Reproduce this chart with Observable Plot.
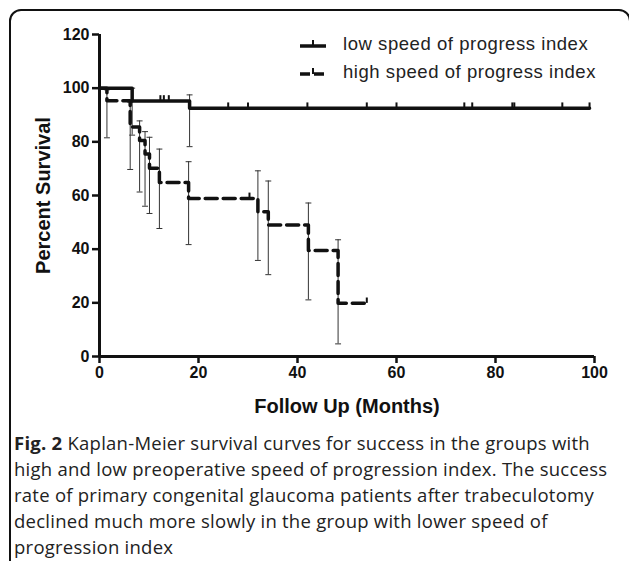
<!DOCTYPE html>
<html>
<head>
<meta charset="utf-8">
<script src="https://cdn.jsdelivr.net/npm/d3@7"></script>
<script src="https://cdn.jsdelivr.net/npm/@observablehq/plot@0.6"></script>
<style>
  html, body { margin: 0; padding: 0; background: #fff; }
  #wrap { position: relative; width: 629px; height: 561px; overflow: hidden; background: #fff; }
  #frame { position: absolute; left: 9px; top: 9px; width: 622px; height: 640px; box-sizing: border-box;
           border: 2px solid #111; border-radius: 12px; }
  #chart { position: absolute; left: 0; top: 0; }
  #legend { position: absolute; left: 298px; top: 30px; font-family: "Liberation Sans", Arial, sans-serif;
            font-size: 18.5px; letter-spacing: 0.55px; color: #222; }
  #legend .row { display: flex; align-items: center; height: 28px; white-space: nowrap; }
  #legend svg { margin-right: 15px; }
  #caption { position: absolute; left: 14px; top: 430px; width: 615px; font-family: "Open Sans", sans-serif;
             font-size: 18.5px; letter-spacing: 0.25px; line-height: 26px; color: #222; white-space: nowrap; }
</style>
</head>
<body>
<div id="wrap">
  <div id="frame"></div>
  <div id="chart"></div>
  <div id="legend"></div>
  <div id="caption"><b>Fig. 2</b> Kaplan-Meier survival curves for success in the groups with<br>high and low preoperative speed of progression index. The success<br>rate of primary congenital glaucoma patients after trabeculotomy<br>declined much more slowly in the group with lower speed of<br>progression index</div>
</div>
<script>
// ---- data ----
const seriesNames = ["low speed of progress index", "high speed of progress index"];

// low speed group: step times (months) and survival (%)
const lowTimes = [0, 6.6, 18.2, 99];
const lowSurv  = [100, 95.2, 92.5, 92.5];
// censoring marks for low group
const lowCensorTimes = [12.3, 13.0, 14.0, 26, 30, 42, 54, 60, 73.7, 75.3, 83.4, 83.8, 93.5, 99];
const lowCensorSurv  = [95.2, 95.2, 95.2, 92.5, 92.5, 92.5, 92.5, 92.5, 92.5, 92.5, 92.5, 92.5, 92.5, 92.5];
// error bars for low group
const lowErrTimes = [6.6, 18.2];
const lowErrLo    = [82.5, 78.2];
const lowErrHi    = [100, 97.5];

// high speed group
const highTimes = [0, 1.5, 6.2, 8.1, 9.2, 10.1, 12.1, 18.0, 32.0, 34.1, 42.2, 48.2, 54];
const highSurv  = [100, 95.3, 85.5, 80.5, 75.5, 70.2, 64.8, 58.9, 53.9, 49.0, 39.5, 19.8, 19.8];
const highCensorTimes = [30.3, 54];
const highCensorSurv  = [58.9, 19.8];
const highErrTimes = [1.5, 6.2, 8.1, 9.2, 10.1, 12.1, 18.0, 32.0, 34.1, 42.2, 48.2];
const highErrLo    = [81.5, 69.7, 61.3, 56.0, 53.3, 47.7, 41.7, 35.8, 30.5, 21.1, 4.7];
const highErrHi    = [99.4, 94.8, 87.8, 83.8, 81.7, 77.3, 72.6, 69.2, 65.4, 57.2, 43.5];

const xTicks = [0, 20, 40, 60, 80, 100];
const yTicks = [0, 20, 40, 60, 80, 100, 120];

// ---- tables ----
const zip2 = (a, b) => a.map((t, i) => ({t, s: b[i]}));
const lowLine = zip2(lowTimes, lowSurv);
const highLine = zip2(highTimes, highSurv);
const censor = [...zip2(lowCensorTimes, lowCensorSurv), ...zip2(highCensorTimes, highCensorSurv)];
const errs = [
  ...lowErrTimes.map((t, i) => ({t, lo: lowErrLo[i], hi: lowErrHi[i]})),
  ...highErrTimes.map((t, i) => ({t, lo: highErrLo[i], hi: highErrHi[i]}))
];
const caps = errs.flatMap(d => [{t: d.t, v: d.lo}, {t: d.t, v: d.hi}]);
const capHalf = 0.6;   // months
const censorLen = 2;   // percent

const chart = Plot.plot({
  width: 629,
  height: 420,
  marginLeft: 99,
  marginRight: 35,
  marginTop: 34,
  marginBottom: 64,
  x: {domain: [0, 100], ticks: xTicks},
  y: {domain: [0, 120], ticks: yTicks},
  style: {fontFamily: "Liberation Sans, Arial, sans-serif", color: "#111", background: "transparent"},
  marks: [
    // error bars
    Plot.ruleX(errs, {x: "t", y1: "lo", y2: "hi", stroke: "#333", strokeWidth: 1}),
    Plot.link(caps, {x1: d => d.t - capHalf, x2: d => d.t + capHalf, y1: "v", y2: "v", stroke: "#333", strokeWidth: 1}),
    // curves
    Plot.line(lowLine, {x: "t", y: "s", curve: "step-after", stroke: "#111", strokeWidth: 3.5}),
    Plot.line(highLine, {x: "t", y: "s", curve: "step-after", stroke: "#111", strokeWidth: 3.5, strokeDasharray: "12,6"}),
    // censor marks
    Plot.ruleX(censor, {x: "t", y1: "s", y2: d => d.s + censorLen, stroke: "#111", strokeWidth: 2}),
    // axes
    Plot.ruleY([0], {x1: 0, x2: 100, stroke: "#111", strokeWidth: 3}),
    Plot.ruleX([0], {y1: 0, y2: 120, stroke: "#111", strokeWidth: 3}),
    Plot.axisX({ticks: xTicks, tickSize: 7, strokeWidth: 2.5, tickPadding: 3, fontSize: 16, fontWeight: "bold",
                label: "Follow Up (Months)", labelAnchor: "center", labelOffset: 56, labelArrow: "none"}),
    Plot.axisY({ticks: yTicks, tickSize: 7, strokeWidth: 2.5, tickPadding: 3, fontSize: 16, fontWeight: "bold",
                label: "Percent Survival", labelAnchor: "center", labelOffset: 64, labelArrow: "none"})
  ]
});
// style axis labels bolder/larger
chart.querySelectorAll("g[aria-label='x-axis label'] text, g[aria-label='y-axis label'] text").forEach(t => {
  t.setAttribute("font-size", "20");
  t.setAttribute("font-weight", "bold");
});
document.getElementById("chart").appendChild(chart);

// legend
const leg = document.getElementById("legend");
seriesNames.forEach((name, i) => {
  const row = document.createElement("div");
  row.className = "row";
  const dash = i === 0 ? "none" : "10,4";
  row.innerHTML = `<svg width="30" height="14"><line x1="2" x2="28" y1="9" y2="9" stroke="#111" stroke-width="3.5" stroke-dasharray="${dash}"/><line x1="15" x2="15" y1="9" y2="3" stroke="#111" stroke-width="2"/></svg><span>${name}</span>`;
  leg.appendChild(row);
});
</script>
</body>
</html>
